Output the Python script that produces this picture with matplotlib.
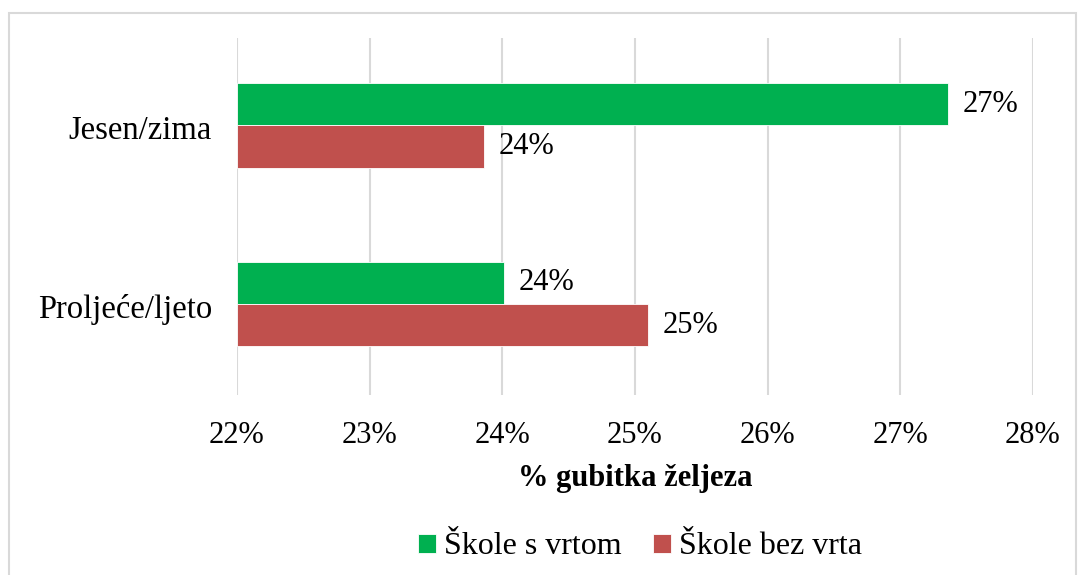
import matplotlib
matplotlib.use("Agg")
import matplotlib.pyplot as plt
from matplotlib.patches import Rectangle
from matplotlib.ticker import FuncFormatter

categories = ["Jesen/zima", "Proljeće/ljeto"]
series_names = ["Škole s vrtom", "Škole bez vrta"]
s_vrtom = [27.36, 24.01]
bez_vrta = [23.86, 25.10]
colors = ["#00B050", "#C0504D"]

plt.rcParams['font.family'] = ['Liberation Serif', 'DejaVu Serif']

W, H = 1078, 575
fig = plt.figure(figsize=(W / 100, H / 100), dpi=100)
ax = fig.add_axes([237 / W, 1 - 395 / H, (1033 - 237) / W, (395 - 38) / H])

bh = 0.237
ys = list(range(len(categories)))
for i, (vals, col, name) in enumerate(zip([s_vrtom, bez_vrta], colors, series_names)):
    offs = -bh / 2 if i == 0 else bh / 2
    pos = [y - 0.01 + offs for y in ys]
    ax.barh(pos, [v - 22 for v in vals], left=22, height=bh, color=col,
            edgecolor="white", linewidth=0.6, label=name, zorder=3)
    for p, v in zip(pos, vals):
        ax.text(v + 0.11, p, f"{round(v):.0f}%", va="center", ha="left", fontsize=22)

ax.set_xlim(22, 28)
ax.set_ylim(1.5, -0.5)
ax.set_xticks(range(22, 29))
ax.xaxis.set_major_formatter(FuncFormatter(lambda x, p: f"{x:.0f}%"))
ax.set_yticks(ys)
ax.set_yticklabels(categories)
ax.tick_params(axis='x', length=0, labelsize=22, pad=19)
ax.tick_params(axis='y', length=0, labelsize=23.5, pad=18)
ax.grid(axis='x', color="#D9D9D9", linewidth=1.5, zorder=0)
for s in ax.spines.values():
    s.set_visible(False)
ax.set_xlabel("% gubitka željeza", fontsize=22, fontweight='bold', labelpad=10)

handles, labels = ax.get_legend_handles_labels()
fig.legend(handles, labels, loc="center", bbox_to_anchor=(640 / W, 1 - 547 / H),
           ncol=2, frameon=False, fontsize=23, handlelength=0.55, handleheight=0.55,
           handletextpad=0.25, columnspacing=1.0)

fig.add_artist(Rectangle((9 / W, -0.01), (1076 - 9) / W, 1 - 13 / H + 0.01,
                         transform=fig.transFigure, fill=False,
                         edgecolor="#D9D9D9", linewidth=1.5))

fig.savefig("out.png", dpi=100)
